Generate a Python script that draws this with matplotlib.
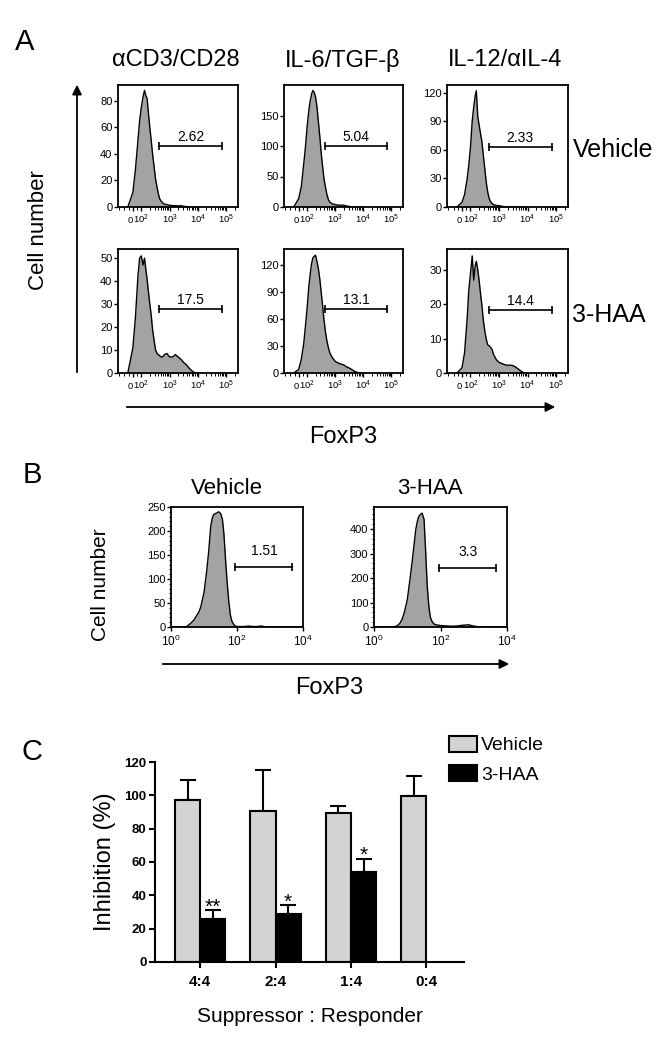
import matplotlib
matplotlib.use("Agg")
import matplotlib.pyplot as plt
import numpy as np
from matplotlib.patches import FancyArrowPatch
from matplotlib.ticker import FixedLocator, AutoMinorLocator, NullFormatter

plt.rcParams['font.family'] = ['Liberation Sans', 'DejaVu Sans']
plt.rcParams['mathtext.fontset'] = 'custom'
plt.rcParams['mathtext.rm'] = 'Liberation Sans'
plt.rcParams['mathtext.it'] = 'Liberation Sans:italic'
plt.rcParams['mathtext.bf'] = 'Liberation Sans:bold'
plt.rcParams['mathtext.default'] = 'regular'

# ---- panel A data: FoxP3 histograms under 3 conditions ----
a_cols = ['\u03b1CD3/CD28', 'IL-6/TGF-\u03b2', 'IL-12/\u03b1IL-4']
a_rows = ['Vehicle', '3-HAA']
a_x = [-60, 0, 30, 60, 80, 100, 115, 130, 145, 160, 180, 200, 225, 250, 285,
       320, 360, 400, 450, 500, 575, 650, 800, 1000, 1300, 1600, 2000, 2500,
       3200, 4000, 5000, 6500, 8000, 10000]
a_veh_cd3 = [0, 11, 28, 50, 65, 75, 83, 88, 84, 82, 70, 60, 50, 40, 30, 21, 15,
             10, 6, 4.5, 3, 2.2, 1.8, 1.3, 1, 1, 0.8, 1, 0.5, 0.3, 0, 0, 0, 0]
a_veh_il6 = [0, 14, 33, 71, 98, 131, 158, 175, 185, 191, 188, 180, 164, 142, 115,
             87, 65, 46, 33, 22, 12, 8, 5, 4, 3, 3, 3, 1.6, 1, 0, 0, 0, 0, 0]
a_veh_il12 = [0, 5, 13, 29, 44, 63, 90, 105, 116, 122, 95, 86, 77, 69, 53, 39, 25,
              16, 9, 6, 3.5, 2.4, 1.7, 1.4, 0.7, 0.3, 0, 0, 0, 0, 0, 0, 0, 0]
a_haa_cd3 = [0, 11, 24, 42, 50, 51, 47, 50, 45, 41, 35, 30, 25, 19, 14, 10, 8.5,
             8, 7.5, 7, 7, 8, 8.5, 7, 7, 8, 7, 6, 4.5, 3.5, 2, 0.7, 0, 0]
a_haa_il6 = [0, 4, 15, 33, 52, 72, 96, 111, 122, 128, 130, 131, 124, 117, 104, 89,
             74, 59, 46, 37, 28, 22, 17, 13, 11, 10, 9, 7, 5.5, 3.7, 1.8, 0.4, 0, 0]
a_haa_il12 = [0, 1.5, 5.8, 15.5, 24, 29, 34, 27, 31, 32.4, 30, 27, 23, 19.8, 15,
              12, 9.7, 8.2, 7.9, 7.5, 6.8, 5.3, 3.9, 3.1, 2.7, 2.4, 2.2, 2.3, 2.1,
              1.6, 1, 0.3, 0, 0]
a_counts = [[a_veh_cd3, a_veh_il6, a_veh_il12], [a_haa_cd3, a_haa_il6, a_haa_il12]]
a_gate = [430, 70000]
a_gate_y = [[46, 100, 63], [27.7, 71, 18.4]]
a_gate_lab = [['2.62', '5.04', '2.33'], ['17.5', '13.1', '14.4']]
a_ymax = [[92, 200, 128], [54, 138, 36]]
a_yticks = [[[0, 20, 40, 60, 80], [0, 50, 100, 150], [0, 30, 60, 90, 120]],
            [[0, 10, 20, 30, 40, 50], [0, 30, 60, 90, 120], [0, 10, 20, 30]]]
a_xticks = [0, 1e2, 1e3, 1e4, 1e5]
a_xticklabels = ['0', '$10^2$', '$10^3$', '$10^4$', '$10^5$']

# ---- panel B data: FoxP3 in sorted cells ----
b_titles = ['Vehicle', '3-HAA']
b_x = [1, 2, 3, 4, 5, 6, 7, 8, 10, 12, 14, 16, 18, 20, 22, 25, 28, 32, 36, 40,
       45, 50, 56, 63, 70, 80, 90, 100, 130, 170, 220, 300, 400, 550, 700, 900,
       1200, 2000, 4000, 10000]
b_vehicle = [0, 0, 1, 8, 15, 24, 31, 42, 72, 115, 160, 210, 228, 235, 236, 238,
             240, 236, 225, 195, 140, 95, 55, 25, 12, 5, 2, 1, 1, 1, 2, 1, 1, 2,
             0.5, 0.5, 0, 0, 0, 0]
b_haa = [0, 0, 0, 1, 5, 15, 32, 55, 110, 192, 265, 335, 397, 430, 450, 460, 465,
         440, 300, 165, 80, 38, 22, 13, 10, 8, 7, 6, 5, 4, 3, 4, 6, 8, 9, 5, 2,
         0, 0, 0]
b_gate = [90, 4800]
b_gate_y = [126, 242]
b_gate_lab = ['1.51', '3.3']
b_ymax = [250, 490]
b_yticks = [[0, 50, 100, 150, 200, 250], [0, 100, 200, 300, 400]]

# ---- panel C data: suppression assay ----
c_groups = ['4:4', '2:4', '1:4', '0:4']
c_vehicle = [97.4, 90.8, 89.4, 99.6]
c_vehicle_err = [11.6, 24.6, 4.4, 12.0]
c_haa = [25.8, 29.0, 54.0]
c_haa_err = [5.2, 5.2, 8.0]
c_stars = ['**', '*', '*']

W, H = 661, 1050
fig = plt.figure(figsize=(W / 100, H / 100), dpi=100)


def box(l, t, r, b):
    return [l / W, 1 - b / H, (r - l) / W, (b - t) / H]


def ftext(x, y, s, **kw):
    fig.text(x / W, 1 - y / H, s, **kw)


def farrow(x0, y0, x1, y1):
    fig.add_artist(FancyArrowPatch((x0 / W, 1 - y0 / H), (x1 / W, 1 - y1 / H),
                                   transform=fig.transFigure, arrowstyle='-|>',
                                   mutation_scale=14, lw=1.3, color='k'))


def hist_axes(ax, x, y, ymax, yt):
    ax.fill_between(x, y, color='#a3a3a3', lw=0)
    ax.plot(x, y, color='k', lw=1)
    ax.set_ylim(0, ymax)
    ax.set_yticks(yt)
    for s in ax.spines.values():
        s.set_linewidth(1.3)
    ax.tick_params(direction='out', length=3, width=1, labelsize=8, pad=1)
    ax.tick_params(which='minor', direction='out', length=1.8, width=0.7)


# panel A
a_xl = [(118, 238), (284, 403), (447, 568)]
a_yl = [(85, 207), (249, 373)]
for r in range(2):
    for c in range(3):
        ax = fig.add_axes(box(a_xl[c][0], a_yl[r][0], a_xl[c][1], a_yl[r][1]))
        ax.set_xscale('symlog', linthresh=100, linscale=0.268)
        hist_axes(ax, a_x, a_counts[r][c], a_ymax[r][c], a_yticks[r][c])
        ax.set_xlim(-169, 262144)
        ax.set_xticks(a_xticks)
        ax.set_xticklabels(a_xticklabels)
        ax.tick_params(axis='x', labelsize=6.8, pad=8.5)
        for lab in ax.get_xticklabels():
            lab.set_verticalalignment('baseline')
        # the "0" and "10^2" labels sit side by side, as in the original
        ax.get_xticklabels()[0].set_horizontalalignment('right')
        minors = [-150, -100, -50, 50] + [k * 10 ** d for d in (2, 3, 4) for k in range(2, 10)] + [2e5]
        ax.xaxis.set_minor_locator(FixedLocator(minors))
        ax.xaxis.set_minor_formatter(NullFormatter())
        gy = a_gate_y[r][c]
        ax.plot(a_gate, [gy, gy], color='k', lw=1.2, marker='|', ms=6, mew=1.2)
        ax.annotate(a_gate_lab[r][c], (np.sqrt(a_gate[0] * a_gate[1]), gy),
                    xytext=(0, 1.5), textcoords='offset points',
                    ha='center', va='bottom', fontsize=10)

for c, cx in enumerate([176, 343, 505]):
    ftext(cx, 60, a_cols[c], ha='center', va='center', fontsize=17)
ftext(573, 150, a_rows[0], ha='left', va='center', fontsize=18)
ftext(572, 315, a_rows[1], ha='left', va='center', fontsize=18)
ftext(25, 42, 'A', ha='center', va='center', fontsize=21)
ftext(38, 230, 'Cell number', ha='center', va='center', rotation=90, fontsize=16)
ftext(343, 437, 'FoxP3', ha='center', va='center', fontsize=17)
farrow(77, 375, 77, 82)
farrow(124, 407, 558, 407)

# panel B
b_xl = [(171, 303), (374, 507)]
for i in range(2):
    ax = fig.add_axes(box(b_xl[i][0], 507, b_xl[i][1], 627))
    ax.set_xscale('log')
    hist_axes(ax, b_x, [b_vehicle, b_haa][i], b_ymax[i], b_yticks[i])
    ax.set_xlim(1, 1e4)
    ax.tick_params(axis='x', labelsize=8.5, pad=2)
    ax.yaxis.set_minor_locator(AutoMinorLocator(5))
    ax.plot(b_gate, [b_gate_y[i]] * 2, color='k', lw=1.2, marker='|', ms=6, mew=1.2)
    ax.annotate(b_gate_lab[i], (np.sqrt(b_gate[0] * b_gate[1]), b_gate_y[i]),
                xytext=(0, 6), textcoords='offset points',
                ha='center', va='bottom', fontsize=10)
    ftext([227, 430][i], 488, b_titles[i], ha='center', va='center', fontsize=16)

ftext(32, 475, 'B', ha='center', va='center', fontsize=21)
ftext(100, 585, 'Cell number', ha='center', va='center', rotation=90, fontsize=15)
ftext(329, 688, 'FoxP3', ha='center', va='center', fontsize=17)
farrow(160, 664, 512, 664)

# panel C
ax = fig.add_axes(box(155, 762, 464, 962))
xg = np.arange(len(c_groups))
bw = 1 / 3
bv = ax.bar(xg - bw / 2, c_vehicle, bw, color='#d3d3d3', edgecolor='k', lw=1.5, zorder=2)
bh = ax.bar(xg[:3] + bw / 2, c_haa, bw, color='k', edgecolor='k', lw=1.5, zorder=2)
ax.errorbar(xg - bw / 2, c_vehicle, yerr=[np.zeros(4), c_vehicle_err], fmt='none',
            ecolor='k', elinewidth=1.5, capsize=6, capthick=1.5, zorder=1)
ax.errorbar(xg[:3] + bw / 2, c_haa, yerr=[np.zeros(3), c_haa_err], fmt='none',
            ecolor='k', elinewidth=1.5, capsize=6, capthick=1.5, zorder=1)
for i, s in enumerate(c_stars):
    ax.text(xg[i] + bw / 2, c_haa[i] + c_haa_err[i] - 1.5, s, ha='center',
            va='baseline', fontsize=15)
ax.set_xlim(-0.6, 3.5)
ax.set_ylim(0, 120)
ax.set_yticks(range(0, 121, 20))
ax.set_xticks(xg)
ax.set_xticklabels(c_groups, fontweight='bold', fontsize=11)
for lab in ax.get_yticklabels():
    lab.set_fontweight('bold')
ax.tick_params(direction='out', length=4, width=1.5, labelsize=9.5, pad=2)
ax.tick_params(axis='x', labelsize=11, pad=5)
for s in ['top', 'right']:
    ax.spines[s].set_visible(False)
for s in ['left', 'bottom']:
    ax.spines[s].set_linewidth(1.5)
ax.set_ylabel('Inhibition (%)', fontsize=17, labelpad=6)
ax.set_xlabel('Suppressor : Responder', fontsize=15, labelpad=13)
ax.legend([bv, bh], ['Vehicle', '3-HAA'], loc='upper left',
          bbox_to_anchor=(449 / W, 1 - 736 / H), bbox_transform=fig.transFigure,
          frameon=False, fontsize=14, handlelength=1.45, handleheight=0.85,
          handletextpad=0.2, labelspacing=0.55, borderpad=0, borderaxespad=0)
ftext(32, 752, 'C', ha='center', va='center', fontsize=21)

fig.savefig('out.png', dpi=100)
